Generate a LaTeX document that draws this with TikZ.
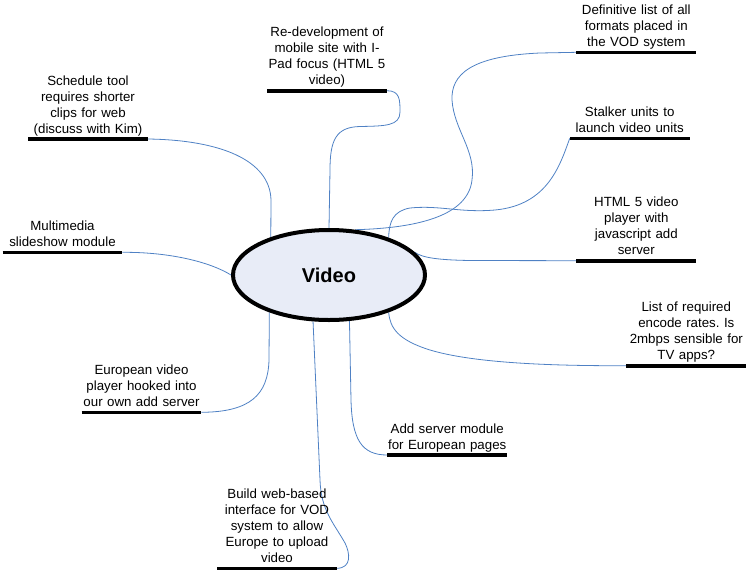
\documentclass[tikz,border=0pt]{standalone}
\usepackage{fontspec}
\setmainfont{Liberation Sans}
\frenchspacing
\usetikzlibrary{shapes.geometric,backgrounds}
\definecolor{linkblue}{RGB}{79,129,196}
\definecolor{bubble}{RGB}{232,236,247}
\begin{document}
\begin{tikzpicture}[x=1pt,y=-1pt,line join=round,line cap=round,
	font=\fontsize{13.3}{16}\selectfont,
	topic/.style={anchor=south,text width=119.5pt,align=center,inner xsep=0pt,inner ysep=0.9pt,execute at end node=\strut},
	bar/.style={line width=3.6pt,line cap=butt},
	link/.style={linkblue,line width=0.8pt}]
	\useasboundingbox (0,0) rectangle (749,571);
	\node[ellipse,draw,line width=4pt,fill=bubble,minimum width=192pt,minimum height=90pt,inner sep=0pt,
		font=\bfseries\fontsize{20}{24}\selectfont] (video) at (329,275) {Video};
	\node[topic] (mobile) at (327,90.7) {Re-development of\\mobile site with I-\\Pad focus (HTML 5\\video)};
	\node[topic] (formats) at (636.3,52.3) {Definitive list of all\\formats placed in\\the VOD system};
	\node[topic] (stalker) at (629.7,138.3) {Stalker units to\\launch video units};
	\node[topic] (player) at (636.3,260.7) {HTML 5 video\\player with\\javascript add\\server};
	\node[topic] (rates) at (686.3,365.7) {List of required\\encode rates. Is\\2mbps sensible for\\TV apps?};
	\node[topic] (adserver) at (447.2,455) {Add server module\\for European pages};
	\node[topic] (upload) at (277,568.3) {Build web-based\\interface for VOD\\system to allow\\Europe to upload\\video};
	\node[topic] (europe) at (141.5,412.3) {European video\\player hooked into\\our own add server};
	\node[topic] (slides) at (62.5,252.3) {Multimedia\\slideshow module};
	\node[topic] (schedule) at (88,139) {Schedule tool\\requires shorter\\clips for web\\(discuss with Kim)};
	\foreach \n in {mobile,formats,stalker,player,rates,adserver,upload,europe,slides,schedule}
		\draw[bar] (\n.south west)--(\n.south east);
	\begin{pgfonlayer}{background}
	\draw[link] (mobile.south east) .. controls (400,90.7) and (400,100) .. (400,112)
		.. controls (400,126) and (385,126) .. (360,126.5)
		.. controls (336,127) and (330,140) .. (330,170) -- (video.90);
	\draw[link] (formats.south west) -- (540,53) .. controls (470,56) and (451,75) .. (452,100)
		.. controls (454,130) and (476,150) .. (472,180)
		.. controls (468,215) and (420,228) .. (video.60);
	\draw[link] (stalker.south west) .. controls (560,165) and (548,205) .. (495,210)
		.. controls (460,213) and (440,205) .. (410,208)
		.. controls (393,211) and (389,222) .. (video.32);
	\draw[link] (player.south west) -- (470,260.5) .. controls (440,260) and (422,258) .. (video.15);
	\draw[link] (rates.south west) .. controls (540,366) and (470,362) .. (430,350)
		.. controls (398,340) and (390,328) .. (video.-32);
	\draw[link] (adserver.south west) .. controls (362,455) and (352,440) .. (351,400) -- (video.-66);
	\draw[link] (upload.south east) .. controls (352,568) and (350,553) .. (345,543)
		.. controls (333,522) and (321,510) .. (320,480) -- (video.-109);
	\draw[link] (europe.south east) .. controls (250,412) and (268,395) .. (269,360) -- (video.-148);
	\draw[link] (slides.south east) .. controls (170,252) and (210,262) .. (video.180);
	\draw[link] (schedule.south east) .. controls (220,140) and (270,160) .. (271,200) -- (video.147);
	\end{pgfonlayer}
\end{tikzpicture}
\end{document}
